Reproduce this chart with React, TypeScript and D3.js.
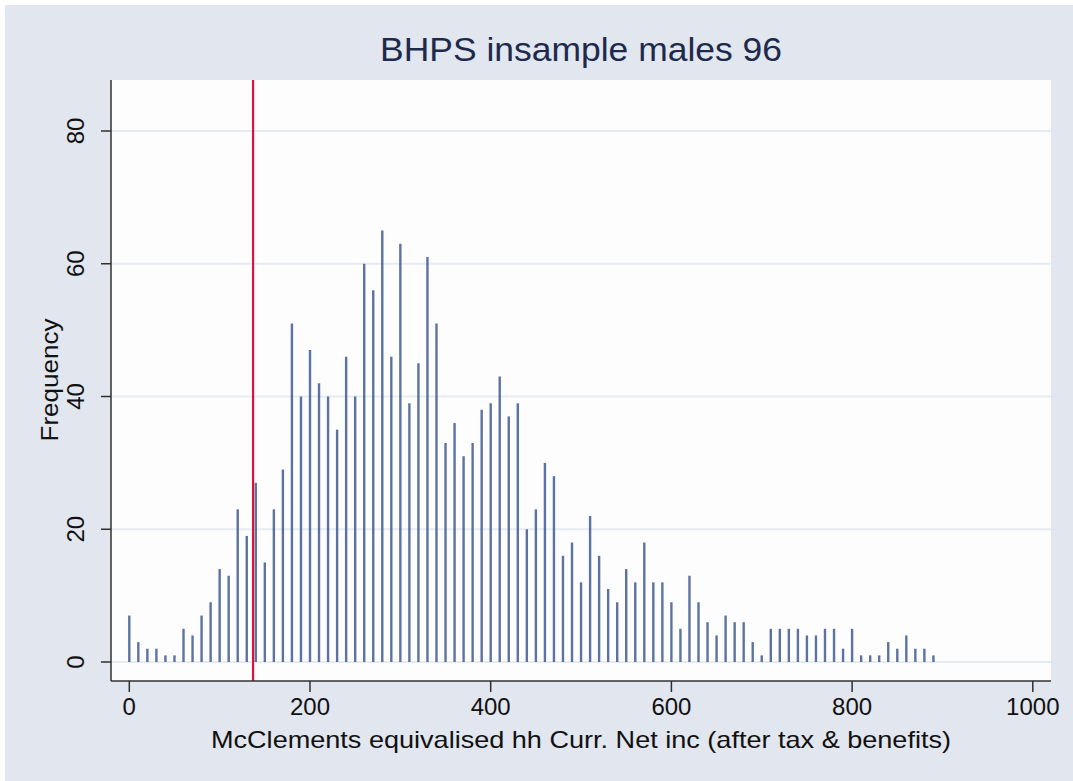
import React from "react";
import * as d3 from "d3";

// income bins (width 10) and their frequencies
const bins = [
  0, 10, 20, 30, 40, 50, 60, 70, 80, 90,
  100, 110, 120, 130, 140, 150, 160, 170, 180, 190,
  200, 210, 220, 230, 240, 250, 260, 270, 280, 290,
  300, 310, 320, 330, 340, 350, 360, 370, 380, 390,
  400, 410, 420, 430, 440, 450, 460, 470, 480, 490,
  500, 510, 520, 530, 540, 550, 560, 570, 580, 590,
  600, 610, 620, 630, 640, 650, 660, 670, 680, 690,
  700, 710, 720, 730, 740, 750, 760, 770, 780, 790,
  800, 810, 820, 830, 840, 850, 860, 870, 880, 890,
];
const freq = [
  7, 3, 2, 2, 1, 1, 5, 4, 7, 9,
  14, 13, 23, 19, 27, 15, 23, 29, 51, 40,
  47, 42, 40, 35, 46, 40, 60, 56, 65, 46,
  63, 39, 45, 61, 51, 33, 36, 31, 33, 38,
  39, 43, 37, 39, 20, 23, 30, 28, 16, 18,
  12, 22, 16, 11, 9, 14, 12, 18, 12, 12,
  9, 5, 13, 9, 6, 4, 7, 6, 6, 3,
  1, 5, 5, 5, 5, 4, 4, 5, 5, 2,
  5, 1, 1, 1, 3, 2, 4, 2, 2, 1,
];
const xTicks = [0, 200, 400, 600, 800, 1000];
const yTicks = [0, 20, 40, 60, 80];
const cutoff = 137; // red reference line

const title = "BHPS insample males 96";
const xTitle = "McClements equivalised hh Curr. Net inc (after tax & benefits)";
const yTitle = "Frequency";

const W = 1073;
const H = 781;
const plot = { left: 111, right: 1051, top: 80, bottom: 681 };
const FONT = '"Liberation Sans Narrow", "Arial Narrow", "Liberation Sans", Arial, sans-serif';

export default function App() {
  const x = d3.scaleLinear().domain([0, 1000]).range([129.3, 1032.8]);
  const y = d3.scaleLinear().domain([0, 80]).range([662, 131]);

  return (
    <svg width={W} height={H} style={{ position: "absolute", left: 0, top: 0 }}>
      <rect x={0} y={0} width={W} height={H} fill="#ffffff" />
      <rect x={5} y={5} width={W - 5} height={H - 5} fill="#e1e6ef" />
      <rect
        x={plot.left}
        y={plot.top}
        width={plot.right - plot.left}
        height={plot.bottom - plot.top}
        fill="#fdfdfe"
      />

      {/* gridlines */}
      {yTicks.map((t) => (
        <line
          key={"g" + t}
          x1={plot.left}
          x2={plot.right}
          y1={y(t)}
          y2={y(t)}
          stroke="#e6ebf2"
          strokeWidth={2}
        />
      ))}

      {/* bars */}
      {bins.map((b, i) => (
        <line
          key={"b" + b}
          x1={x(b)}
          x2={x(b)}
          y1={y(0)}
          y2={y(freq[i])}
          stroke="#33508a"
          strokeOpacity={0.8}
          strokeWidth={2.4}
        />
      ))}

      {/* reference line */}
      <line
        x1={x(cutoff)}
        x2={x(cutoff)}
        y1={plot.top}
        y2={plot.bottom}
        stroke="#d4163f"
        strokeWidth={2.2}
      />

      {/* y axis */}
      <line x1={plot.left} x2={plot.left} y1={plot.top} y2={plot.bottom} stroke="#303030" strokeWidth={1.5} />
      {yTicks.map((t) => (
        <g key={"y" + t}>
          <line x1={plot.left - 10} x2={plot.left} y1={y(t)} y2={y(t)} stroke="#303030" strokeWidth={1.5} />
          <text
            transform={`translate(${plot.left - 27},${y(t)}) rotate(-90)`}
            textAnchor="middle"
            fontFamily={FONT}
            fontSize={24}
            fill="#111"
          >
            {t}
          </text>
        </g>
      ))}

      {/* x axis */}
      <line x1={plot.left} x2={plot.right} y1={plot.bottom} y2={plot.bottom} stroke="#303030" strokeWidth={1.5} />
      {xTicks.map((t) => (
        <g key={"x" + t}>
          <line x1={x(t)} x2={x(t)} y1={plot.bottom} y2={plot.bottom + 11} stroke="#303030" strokeWidth={1.5} />
          <text x={x(t)} y={plot.bottom + 34} textAnchor="middle" fontFamily={FONT} fontSize={24} fill="#111">
            {t}
          </text>
        </g>
      ))}

      {/* titles */}
      <text
        x={581}
        y={61}
        textAnchor="middle"
        fontFamily={FONT}
        fontSize={33}
        fill="#1e2a4c"
        textLength={402}
        lengthAdjust="spacingAndGlyphs"
      >
        {title}
      </text>
      <text
        x={581}
        y={748}
        textAnchor="middle"
        fontFamily={FONT}
        fontSize={24}
        fill="#111"
        textLength={740}
        lengthAdjust="spacingAndGlyphs"
      >
        {xTitle}
      </text>
      <text
        transform={`translate(58,380) rotate(-90)`}
        textAnchor="middle"
        fontFamily={FONT}
        fontSize={24}
        fill="#111"
        textLength={123}
        lengthAdjust="spacingAndGlyphs"
      >
        {yTitle}
      </text>
    </svg>
  );
}
